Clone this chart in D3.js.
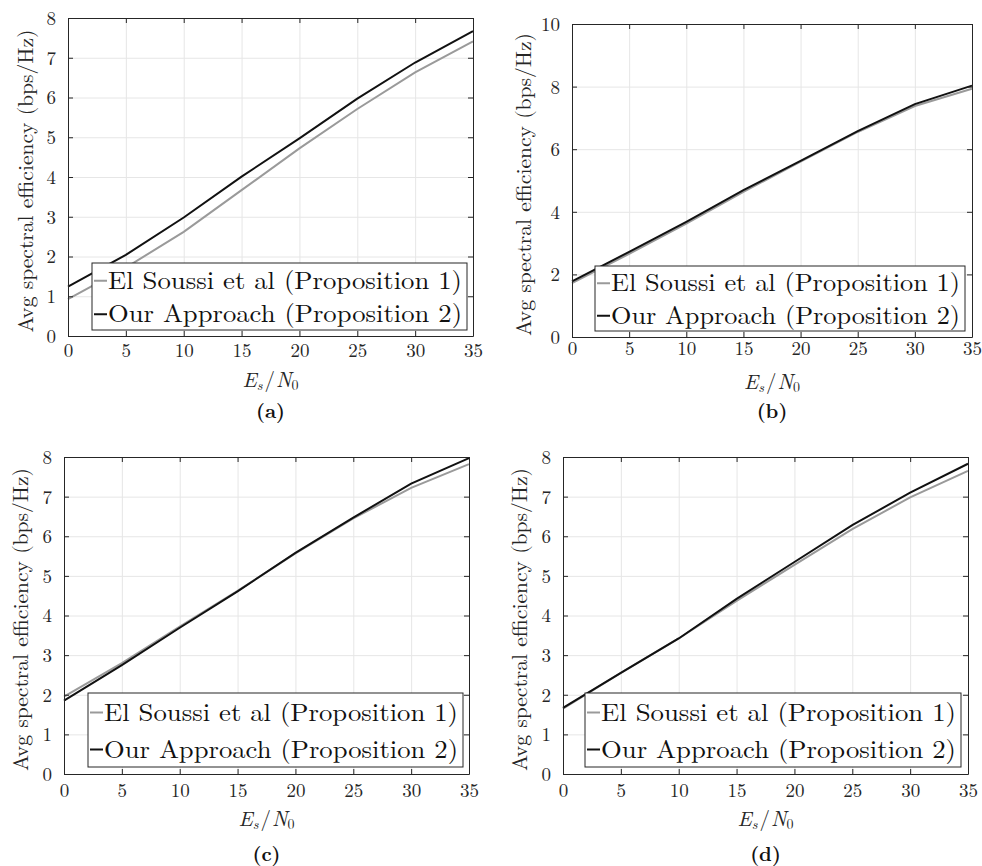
<!DOCTYPE html>
<html>
<head>
<meta charset="utf-8">
<script src="https://cdn.jsdelivr.net/npm/d3@7"></script>
<style>
  body { margin: 0; background: #fff; }
  svg text { font-family: "Latin Modern Roman", "Liberation Serif", serif; }
</style>
</head>
<body>
<svg id="drawing_region" width="982" height="866"></svg>
<script>
// Es/N0 sample points
const snr = [0, 5, 10, 15, 20, 25, 30, 35];

// (a)
const soussiA = [0.93, 1.72, 2.62, 3.67, 4.72, 5.71, 6.63, 7.41];
const oursA   = [1.24, 2.04, 2.98, 4.01, 4.97, 5.97, 6.88, 7.67];
// (b)
const soussiB = [1.72, 2.66, 3.62, 4.64, 5.60, 6.55, 7.38, 7.93];
const oursB   = [1.78, 2.72, 3.68, 4.69, 5.63, 6.58, 7.44, 8.03];
// (c)
const soussiC = [1.95, 2.80, 3.72, 4.62, 5.57, 6.45, 7.22, 7.82];
const oursC   = [1.85, 2.75, 3.69, 4.61, 5.58, 6.47, 7.33, 7.97];
// (d)
const soussiD = [1.65, 2.55, 3.42, 4.37, 5.28, 6.18, 6.98, 7.65];
const oursD   = [1.67, 2.55, 3.42, 4.42, 5.35, 6.28, 7.10, 7.83];

const xTicks = [0, 5, 10, 15, 20, 25, 30, 35];
const yTicks8 = [0, 1, 2, 3, 4, 5, 6, 7, 8];
const yTicks10 = [0, 2, 4, 6, 8, 10];

const seriesNames = ["El Soussi et al (Proposition 1)", "Our Approach (Proposition 2)"];
const panelLabels = ["(a)", "(b)", "(c)", "(d)"];

const FONT = '"Latin Modern Roman", "Liberation Serif", serif';
const svg = d3.select('#drawing_region');

const panels = [
  { left: 68,  right: 473, top: 18,  bottom: 336, ymax: 8,  yticks: yTicks8,  s: soussiA, o: oursA,
    yl: 33,  xtb: 357, xlb: 387, plb: 418, leg: {x0: 92,  x1: 467, y0: 263, y1: 330} },
  { left: 572, right: 972, top: 24,  bottom: 337, ymax: 10, yticks: yTicks10, s: soussiB, o: oursB,
    yl: 531, xtb: 355, xlb: 389, plb: 418, leg: {x0: 595, x1: 965, y0: 266, y1: 331} },
  { left: 64,  right: 469, top: 457, bottom: 774, ymax: 8,  yticks: yTicks8,  s: soussiC, o: oursC,
    yl: 28,  xtb: 797, xlb: 826, plb: 861, leg: {x0: 88,  x1: 463, y0: 693, y1: 767} },
  { left: 563, right: 968, top: 457, bottom: 774, ymax: 8,  yticks: yTicks8,  s: soussiD, o: oursD,
    yl: 527, xtb: 797, xlb: 826, plb: 861, leg: {x0: 585, x1: 961, y0: 693, y1: 767} }
];

const axisColor = '#262626';

panels.forEach((p, i) => {
  const w = p.right - p.left;
  const h = p.bottom - p.top;
  const g = svg.append('g').attr('transform', `translate(${p.left},${p.top})`);

  const x = d3.scaleLinear().domain([0, 35]).range([0, w]);
  const y = d3.scaleLinear().domain([0, p.ymax]).range([h, 0]);

  // grid
  g.append('g')
    .attr('transform', `translate(0,${h})`)
    .call(d3.axisBottom(x).tickValues(xTicks).tickSize(-h).tickFormat(''))
    .call(a => a.select('.domain').remove())
    .call(a => a.selectAll('line').attr('stroke', '#e6e6e6'));
  g.append('g')
    .call(d3.axisLeft(y).tickValues(p.yticks).tickSize(-w).tickFormat(''))
    .call(a => a.select('.domain').remove())
    .call(a => a.selectAll('line').attr('stroke', '#e6e6e6'));

  // curves
  const line = d3.line().x((d, k) => x(snr[k])).y(d => y(d));
  g.append('path').attr('d', line(p.s))
    .attr('fill', 'none').attr('stroke', '#9a9a9a').attr('stroke-width', 2);
  g.append('path').attr('d', line(p.o))
    .attr('fill', 'none').attr('stroke', '#111').attr('stroke-width', 2);

  // axes box with inward ticks
  const styleAxis = a => {
    a.attr('font-family', FONT);
    a.select('.domain').attr('stroke', axisColor);
    a.selectAll('.tick line').attr('stroke', axisColor);
    a.selectAll('text').attr('fill', axisColor)
      .attr('font-size', 19).attr('font-family', FONT);
  };
  g.append('g').attr('transform', `translate(0,${h})`)
    .call(d3.axisBottom(x).tickValues(xTicks).tickSize(-5).tickSizeOuter(0))
    .call(styleAxis)
    .call(a => a.selectAll('text').attr('dy', 0).attr('y', p.xtb - p.bottom));
  g.append('g')
    .call(d3.axisTop(x).tickValues(xTicks).tickSize(-5).tickSizeOuter(0).tickFormat(''))
    .call(styleAxis);
  g.append('g')
    .call(d3.axisLeft(y).tickValues(p.yticks).tickSize(-5).tickSizeOuter(0).tickPadding(12))
    .call(styleAxis)
    .call(a => a.selectAll('text').attr('dy', '0.34em'));
  g.append('g').attr('transform', `translate(${w},0)`)
    .call(d3.axisRight(y).tickValues(p.yticks).tickSize(-5).tickSizeOuter(0).tickFormat(''))
    .call(styleAxis);

  // legend
  const lg = svg.append('g');
  lg.append('rect')
    .attr('x', p.leg.x0).attr('y', p.leg.y0)
    .attr('width', p.leg.x1 - p.leg.x0).attr('height', p.leg.y1 - p.leg.y0)
    .attr('fill', '#fff').attr('stroke', axisColor).attr('stroke-width', 1);
  const rowH = (p.leg.y1 - p.leg.y0) / 2;
  [['#9a9a9a', seriesNames[0]], ['#111', seriesNames[1]]].forEach(([c, name], k) => {
    const cy = p.leg.y0 + rowH * (k + 0.5) + 1;
    lg.append('line')
      .attr('x1', p.leg.x0 + 2).attr('x2', p.leg.x0 + 15)
      .attr('y1', cy).attr('y2', cy)
      .attr('stroke', c).attr('stroke-width', 2);
    lg.append('text')
      .attr('x', p.leg.x0 + 16).attr('y', cy + 8)
      .attr('font-family', FONT).attr('font-size', 25).attr('fill', '#111')
      .attr('textLength', p.leg.x1 - p.leg.x0 - 21).attr('lengthAdjust', 'spacingAndGlyphs')
      .text(name);
  });

  // y label
  svg.append('text')
    .attr('transform', `translate(${p.yl},${p.top + h / 2 + 4}) rotate(-90)`)
    .attr('text-anchor', 'middle').attr('font-family', FONT).attr('font-size', 21).attr('fill', axisColor)
    .attr('textLength', 303).attr('lengthAdjust', 'spacingAndGlyphs')
    .text('Avg spectral efficiency (bps/Hz)');

  // x label: E_s / N_0
  const cx = p.left + w / 2;
  const xl = svg.append('text')
    .attr('x', cx).attr('y', p.xlb)
    .attr('text-anchor', 'middle').attr('font-family', FONT).attr('font-size', 21).attr('fill', axisColor);
  xl.append('tspan').attr('font-style', 'italic').text('E');
  xl.append('tspan').attr('font-style', 'italic').attr('font-size', 14).attr('dy', 3).text('s');
  xl.append('tspan').attr('dy', -3).attr('dx', 2).text('/');
  xl.append('tspan').attr('font-style', 'italic').attr('dx', 1).text('N');
  xl.append('tspan').attr('font-size', 14).attr('dy', 3).text('0');

  // panel label
  svg.append('text')
    .attr('x', cx).attr('y', p.plb)
    .attr('text-anchor', 'middle').attr('font-family', FONT).attr('font-size', 20).attr('font-weight', 'bold').attr('fill', '#111')
    .text(panelLabels[i]);
});
</script>
</body>
</html>
